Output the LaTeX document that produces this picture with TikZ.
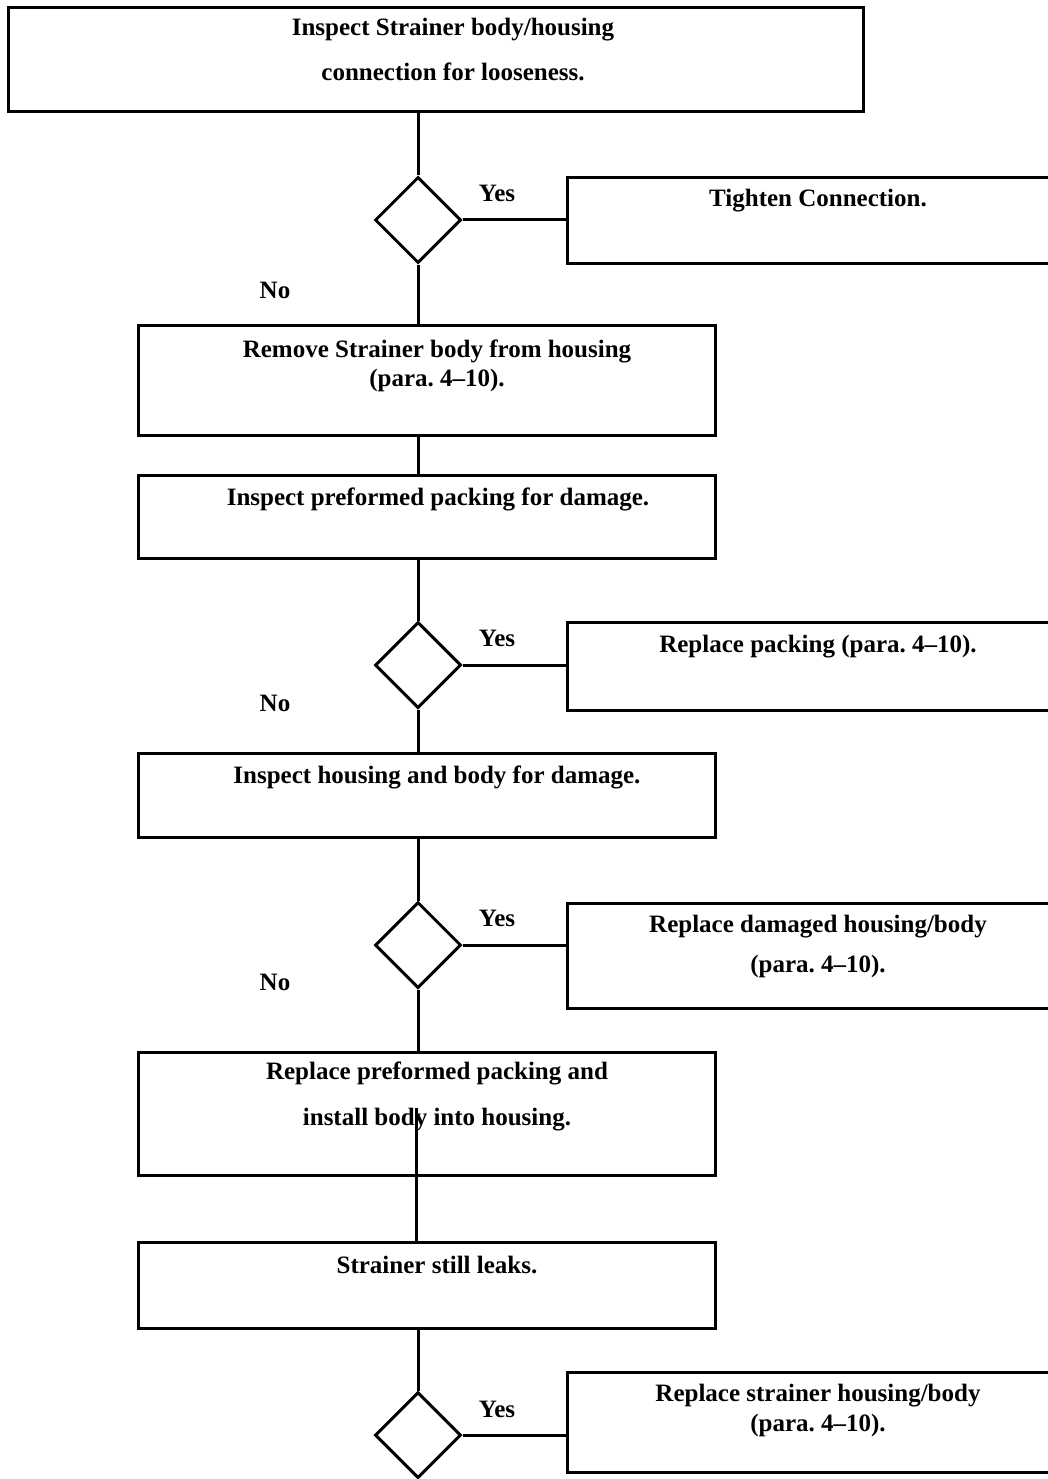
\documentclass[tikz,border=0pt]{standalone}
\usepackage{fontspec}
\setmainfont{Liberation Serif}
\usetikzlibrary{shapes.geometric,calc}
\frenchspacing
\begin{document}
\begin{tikzpicture}[x=1pt,y=-1pt,
  every node/.style={font=\fontsize{25}{29}\selectfont\bfseries},
  box/.style={draw,line width=3pt,rectangle,inner sep=0pt},
  dia/.style={draw,line width=3pt,diamond,minimum width=86pt,minimum height=86pt,inner sep=0pt},
  conn/.style={line width=3pt},
  lbl/.style={inner sep=0pt,anchor=center}]
\useasboundingbox (0,0) rectangle (1047,1479);
\node[box,minimum width=855pt,minimum height=104pt] (b1) at (435.5,60) {};
\node[lbl] (t1a) at (453,30) {Inspect Strainer body/housing};
\node[lbl] (t1b) at (453,72) {connection for looseness.};
\node[dia] (d1) at (418,220) {};
\node[box,minimum width=500pt,minimum height=85pt] (r1) at (817,220.5) {};
\node[lbl] (r1t) at (818,201) {Tighten Connection.};
\node[lbl] (y1) at (497,193) {Yes};
\node[lbl] (n1) at (275,290) {No};
\node[box,minimum width=577pt,minimum height=110pt] (b2) at (426.5,380) {};
\node[lbl] (b2a) at (437,351) {Remove Strainer body from housing};
\node[lbl] (b2b) at (437,380) {(para. 4--10).};
\node[box,minimum width=577pt,minimum height=83pt] (b3) at (426.5,516.5) {};
\node[lbl] (b3t) at (438,499) {Inspect preformed packing for damage.};
\node[dia] (d2) at (418,665) {};
\node[box,minimum width=500pt,minimum height=88pt] (r2) at (817,666) {};
\node[lbl] (r2t) at (818,647) {Replace packing (para. 4--10).};
\node[lbl] (y2) at (497,638) {Yes};
\node[lbl] (n2) at (275,703) {No};
\node[box,minimum width=577pt,minimum height=84pt] (b4) at (426.5,795) {};
\node[lbl] (b4t) at (437,777) {Inspect housing and body for damage.};
\node[dia] (d3) at (418,945) {};
\node[box,minimum width=500pt,minimum height=105pt] (r3) at (817,955.5) {};
\node[lbl] (r3a) at (818,927) {Replace damaged housing/body};
\node[lbl] (r3b) at (818,966) {(para. 4--10).};
\node[lbl] (y3) at (497,918) {Yes};
\node[lbl] (n3) at (275,982) {No};
\node[box,minimum width=577pt,minimum height=123pt] (b5) at (426.5,1113.5) {};
\node[lbl] (b5a) at (437,1073) {Replace preformed packing and};
\node[lbl] (b5b) at (437,1120) {install body into housing.};
\node[box,minimum width=577pt,minimum height=86pt] (b6) at (426.5,1285) {};
\node[lbl] (b6t) at (437,1265) {Strainer still leaks.};
\node[dia] (d4) at (418,1435) {};
\node[box,minimum width=500pt,minimum height=100pt] (r4) at (817,1422) {};
\node[lbl] (r4a) at (818,1396) {Replace strainer housing/body};
\node[lbl] (r4b) at (818,1425) {(para. 4--10).};
\node[lbl] (y4) at (497,1409) {Yes};
\coordinate (c5) at (416,1108);
\draw[conn] (b1.south -| d1) -- (d1.north);
\draw[conn] (d1.east) -- (d1.east -| r1.west);
\draw[conn] (d1.south) -- (d1.south |- b2.north);
\draw[conn] (b2.south -| d1) -- (b3.north -| d1);
\draw[conn] (b3.south -| d2) -- (d2.north);
\draw[conn] (d2.east) -- (d2.east -| r2.west);
\draw[conn] (d2.south) -- (d2.south |- b4.north);
\draw[conn] (b4.south -| d3) -- (d3.north);
\draw[conn] (d3.east) -- (d3.east -| r3.west);
\draw[conn] (d3.south) -- (d3.south |- b5.north);
\draw[conn] (c5) -- (c5 |- b6.north);
\draw[conn] (b6.south -| d4) -- (d4.north);
\draw[conn] (d4.east) -- (d4.east -| r4.west);
\end{tikzpicture}
\end{document}
